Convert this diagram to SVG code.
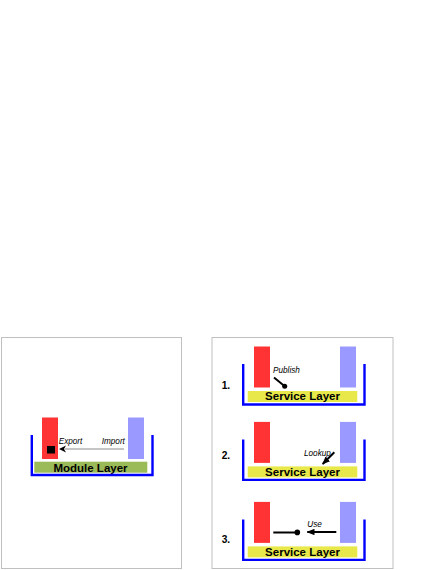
<svg xmlns="http://www.w3.org/2000/svg" width="441" height="570" viewBox="0 0 441 570">
<defs>
<style>
.panel{fill:#fff;stroke:#c0c0c0;stroke-width:1}
.red{fill:#ff3333}
.blue{fill:#9999ff}
.tray{fill:none;stroke:#0000ff;stroke-width:2.4}
.green{fill:#9bbb59}
.yellow{fill:#e8e84a}
.layer{font-family:"Liberation Sans",Arial,sans-serif;font-weight:bold;font-size:11.5px;fill:#000;text-anchor:middle}
.lbl{font-family:"Liberation Sans",Arial,sans-serif;font-style:italic;font-size:8.2px;fill:#000}
.num{font-family:"Liberation Sans",Arial,sans-serif;font-weight:bold;font-size:10.2px;fill:#000}
.thick{stroke:#000;stroke-width:2;fill:none}
</style>
<marker id="ah" viewBox="0 0 10 8" refX="9" refY="4" markerWidth="8" markerHeight="6.4" markerUnits="userSpaceOnUse" orient="auto">
<path d="M0,0 L10,4 L0,8 Z" fill="#000"/>
</marker>
</defs>
<rect width="441" height="570" fill="#fff"/>

<g id="module-panel">
<rect class="panel" x="1.5" y="337.5" width="180" height="231"/>
<rect class="red" x="42" y="417.5" width="16" height="41.5"/>
<rect class="blue" x="128" y="417.5" width="16" height="41.5"/>
<rect x="47" y="446" width="8" height="7.5" fill="#000"/>
<rect class="green" x="34.3" y="461.7" width="113" height="11"/>
<text class="layer" x="90.5" y="471.6">Module Layer</text>
<path class="tray" d="M31.8,435 V475 H152.5 V435"/>
<text class="lbl" x="58.7" y="444.3">Export</text>
<text class="lbl" x="101.7" y="444.3">Import</text>
</g>

<g id="service-panel">
<rect class="panel" x="212" y="337.5" width="181" height="231"/>
</g>

<g id="step1">
<text class="num" x="221.7" y="388.7">1.</text>
<rect class="red" x="254" y="346.5" width="16" height="41"/>
<rect class="blue" x="340" y="346.5" width="16" height="41"/>
<rect class="yellow" x="247.7" y="391" width="109.6" height="11"/>
<text class="layer" x="302.5" y="400.4">Service Layer</text>
<path class="tray" d="M243.2,364 V404.5 H364.5 V364"/>
<text class="lbl" x="273" y="373.3">Publish</text>
</g>

<g id="step2">
<text class="num" x="221.7" y="458.7">2.</text>
<rect class="red" x="254" y="421.9" width="16" height="41"/>
<rect class="blue" x="340" y="421.9" width="16" height="41"/>
<rect class="yellow" x="247.7" y="466.4" width="109.6" height="11"/>
<text class="layer" x="302.5" y="475.8">Service Layer</text>
<path class="tray" d="M243.2,439.4 V479.9 H364.5 V439.4"/>
<text class="lbl" x="304" y="455.7">Lookup</text>
</g>

<g id="step3">
<text class="num" x="221.7" y="542.7">3.</text>
<rect class="red" x="254" y="501.9" width="16" height="41"/>
<rect class="blue" x="340" y="501.9" width="16" height="41"/>
<rect class="yellow" x="247.7" y="546.4" width="109.6" height="11"/>
<text class="layer" x="302.5" y="555.8">Service Layer</text>
<path class="tray" d="M243.2,519.4 V559.9 H364.5 V519.4"/>
<text class="lbl" x="307.3" y="526.7">Use</text>
</g>

<g id="connectors">
<line x1="124" y1="449" x2="65" y2="449" stroke="#8a8a8a" stroke-width="1"/>
<path d="M59,449 L66,445.5 L64,449 L66,452.5 Z" fill="#000"/>
<line class="thick" x1="274" y1="377.5" x2="284.7" y2="386.3"/>
<circle cx="284.7" cy="386.3" r="2.5" fill="#000"/>
<line class="thick" x1="334.3" y1="452.3" x2="322.7" y2="464" marker-end="url(#ah)"/>
<line class="thick" x1="273.3" y1="532.5" x2="297.3" y2="532.5"/>
<circle cx="297.3" cy="532.4" r="2.8" fill="#000"/>
<line class="thick" x1="336.3" y1="532" x2="307.3" y2="532" marker-end="url(#ah)"/>
</g>
</svg>
